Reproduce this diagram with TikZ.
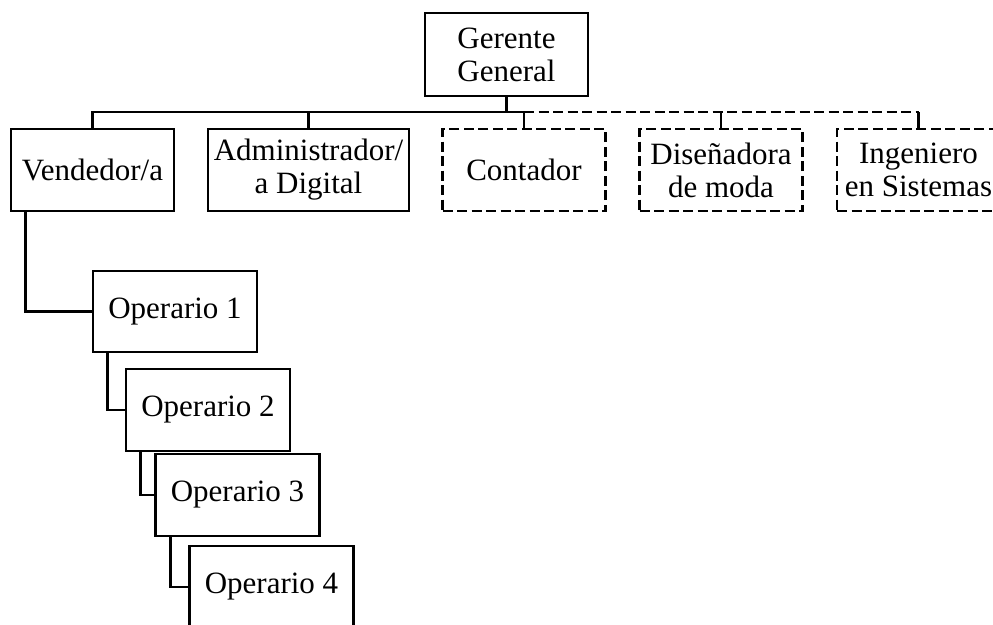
\documentclass[tikz,border=0pt]{standalone}
\usepackage{fontspec}
\setmainfont{Liberation Serif}
\begin{document}
\begin{tikzpicture}[x=1pt,y=-1pt,line width=2.8pt,
	puesto/.style={draw,minimum width=163pt,minimum height=82pt,inner sep=0pt,
		align=center,font=\fontsize{31}{33}\selectfont},
	externo/.style={puesto,dash pattern=on 10pt off 4.5pt}]
\useasboundingbox (0,0) rectangle (993,624);
\clip (0,0) rectangle (993,624);

\node[puesto,minimum height=83pt] (gerente) at (506.5,54.5) {Gerente\\General};
\coordinate (bus) at (506.5,112);

\node[puesto] (vendedor) at (92.5,170) {Vendedor/a};
\node[puesto,minimum width=201pt] (admin) at (308.5,170) {Administrador/\\a Digital};
\node[externo] (contador) at (524,170) {Contador};
\node[externo] (disenadora) at (721,170) {Diseñadora\\de moda};
\node[externo] (ingeniero) at (918.5,170) {Ingeniero\\en Sistemas};

\node[puesto,minimum width=164pt,minimum height=81pt] (op1) at (175,311.5) {Operario 1};
\node[puesto,minimum width=164pt] (op2) at (208,410) {Operario 2};
\node[puesto,minimum width=164pt] (op3) at (237.5,495) {Operario 3};
\node[puesto,minimum width=164pt] (op4) at (271.5,587) {Operario 4};

\draw (gerente.south) -- (bus);
\draw (vendedor.north) |- (contador.north |- bus) -- (contador.north);
\draw (admin.north) -- (admin.north |- bus);
\draw[dash pattern=on 10pt off 4.5pt] (contador.north |- bus) -- (ingeniero.north |- bus);
\foreach \n in {disenadora,ingeniero}
	\draw (\n.north) -- (\n.north |- bus);

\draw ([xshift=16pt]vendedor.south west) |- (op1.west);
\foreach \a/\b in {op1/op2,op2/op3,op3/op4}
	\draw ([xshift=16pt]\a.south west) |- (\b.west);
\end{tikzpicture}
\end{document}
